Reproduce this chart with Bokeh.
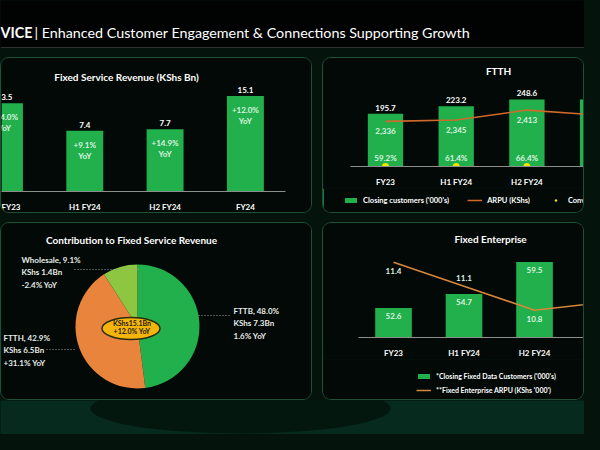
import math
from bokeh.plotting import figure
from bokeh.layouts import column, row
from bokeh.models import (Range1d, FixedTicker, Legend, LegendItem, Span, Spacer,
                          ColumnDataSource)
from bokeh.core.properties import value
from bokeh.embed import file_html
from bokeh.resources import INLINE

# ---------------- data ----------------
periods = ["FY23", "H1 FY24", "H2 FY24", "FY24"]

rev_values = [13.5, 7.4, 7.7, 15.1]
rev_yoy = ["+14.0%", "+9.1%", "+14.9%", "+12.0%"]

ftth_customers = [195.7, 223.2, 248.6, 248.6]
ftth_arpu = [2336, 2345, 2413, 2379]
ftth_conversion = [59.2, 61.4, 66.4, 66.4]

mix_segments = ["FTTB", "FTTH", "Wholesale"]
mix_share = [48.0, 42.9, 9.1]
mix_revenue = [7.3, 6.5, 1.4]
mix_yoy = ["1.6%", "+31.1%", "-2.4%"]
mix_total = 15.1
mix_total_yoy = "+12.0%"

ent_customers = [52.6, 54.7, 59.5, 59.5]
ent_arpu = [11.4, 11.1, 10.8, 10.9]

# ---------------- styles ----------------
PAGE_BG = "#04130c"
PANEL = "#030906"
GREEN = "#21b04b"
ORANGE = "#d06a2c"
GOLD = "#d8873a"
PIE_ORANGE = "#e9843d"
LIGHT_GREEN = "#8dc641"
YELLOW = "#f2e400"
FONT = "Lato"
WHITE = "#ffffff"
SOFT = "#dff3e2"
AXIS = "#8a8f8c"
EDGE = "1px solid #1f4f34"
FULL_STYLE = {"border-radius": "9px", "border": EDGE, "box-sizing": "border-box",
              "overflow": "hidden"}
TOP_STYLE = {"border-radius": "9px 9px 0 0", "border": EDGE, "border-bottom": "none",
             "box-sizing": "border-box", "overflow": "hidden"}
BOTTOM_STYLE = {"border-radius": "0 0 9px 9px", "border": EDGE, "border-top": "none",
                "box-sizing": "border-box", "overflow": "hidden"}

xs = list(range(len(periods)))


def fig(w, h, xr, yr, axis=True, bottom=0, styles=FULL_STYLE):
    p = figure(width=w, height=h, x_range=xr, y_range=yr, output_backend="svg",
               toolbar_location=None, min_border=0, min_border_bottom=bottom,
               x_axis_location="below" if axis else None, y_axis_location=None,
               background_fill_color=PANEL, border_fill_color=PANEL,
               outline_line_color=None)
    p.xgrid.visible = False
    p.ygrid.visible = False
    p.styles = styles
    if axis:
        ax = p.xaxis[0]
        ax.ticker = FixedTicker(ticks=xs)
        ax.major_label_overrides = {i: lbl for i, lbl in enumerate(periods)}
        ax.bounds = (-0.5, 3.5)
        ax.axis_line_color = AXIS
        ax.major_tick_line_color = None
        ax.minor_tick_line_color = None
        ax.major_label_text_color = WHITE
        ax.major_label_text_font = FONT
        ax.major_label_text_font_style = "bold"
        ax.major_label_text_font_size = "8px"
        ax.major_label_standoff = 4
    return p


def txt(p, **kw):
    base = dict(text_font=value(FONT), text_font_style="bold", text_font_size="8px",
                text_color=WHITE, text_align="center", text_baseline="middle")
    base.update(kw)
    return p.text(**base)


def legend_strip(w, h, source, entries, **kw):
    """Strip under a chart holding its legend. The series are re-drawn here from the
    same source, outside the strip's visible range, so only the legend shows."""
    lf = fig(w, h, Range1d(100, 101), Range1d(100, 101), axis=False, styles=BOTTOM_STYLE)
    items = []
    for label, kind, field, color in entries:
        if kind == "bar":
            r = lf.vbar(x="x", top=field, width=0.5, source=source, fill_color=color,
                        line_color=None)
        elif kind == "line":
            r = lf.line(x="x", y=field, source=source, line_color=color, line_width=1.6)
        else:
            r = lf.scatter(x="x", y=field, source=source, size=7, fill_color=color,
                           line_color=None)
        items.append(LegendItem(label=label, renderers=[r]))
    base = dict(padding=2, margin=0, label_standoff=5, glyph_width=15, glyph_height=6,
                label_height=10, label_text_font=FONT, label_text_font_style="bold",
                label_text_font_size="7.5px", label_text_color=WHITE,
                background_fill_alpha=0, border_line_color=None)
    base.update(kw)
    lf.add_layout(Legend(items=items, **base), "center")
    return lf


# ---------------- header ----------------
hdr = figure(width=584, height=48, x_range=Range1d(0, 584), y_range=Range1d(0, 48),
             output_backend="svg", toolbar_location=None, min_border=0,
             x_axis_location=None, y_axis_location=None,
             background_fill_color="#010302", border_fill_color="#010302",
             outline_line_color=None)
hdr.xgrid.visible = False
hdr.ygrid.visible = False
txt(hdr, x=[0], y=[16], text=["VICE"], text_align="left", text_font_size="14.3px")
txt(hdr, x=[34], y=[16], text=["|  Enhanced Customer Engagement & Connections Supporting Growth"],
    text_align="left", text_font_style="normal", text_font_size="14.3px")
hdr.add_layout(Span(location=0.5, dimension="width", line_color="#5b615d", line_width=1))

# ---------------- panel 1: revenue ----------------
REV_BASE = -6.1
p1 = fig(312, 156, Range1d(-0.037, 3.848), Range1d(REV_BASE, 23.42), bottom=18)
s1 = ColumnDataSource(dict(x=xs, top=rev_values, val=[f"{v:.1f}" for v in rev_values],
                           yoy=rev_yoy))
p1.vbar(x="x", top="top", bottom=REV_BASE, width=0.46, source=s1,
        fill_color=GREEN, line_color=None)
txt(p1, x="x", y="top", text="val", source=s1, text_baseline="bottom", y_offset=-3)
txt(p1, x="x", y="top", text="yoy", source=s1, y_offset=14, text_color=SOFT)
txt(p1, x="x", y="top", text=value("YoY"), source=s1, y_offset=25, text_color=SOFT)
txt(p1, x=[1.52], y=[23.42], text=["Fixed Service Revenue (KShs Bn)"], y_offset=18,
    text_font_size="10px")

# ---------------- panel 2: FTTH ----------------
p2 = fig(262, 131, Range1d(-0.877, 2.829), Range1d(0, 400), bottom=16, styles=TOP_STYLE)
p2.extra_y_ranges = {"arpu": Range1d(2028, 2765)}
s2 = ColumnDataSource(dict(x=xs, cust=ftth_customers, arpu=ftth_arpu, conv=ftth_conversion,
                           base=[0] * len(xs),
                           cust_l=[f"{v:.1f}" for v in ftth_customers],
                           arpu_l=[f"{v:,}" for v in ftth_arpu],
                           conv_l=[f"{v:.1f}%" for v in ftth_conversion]))
p2.vbar(x="x", top="cust", width=0.5, source=s2, fill_color=GREEN, line_color=None)
p2.line(x="x", y="arpu", source=s2, y_range_name="arpu", line_color=ORANGE, line_width=1.6)
p2.scatter(x="x", y="base", source=s2, size=7, fill_color=YELLOW, line_color=None)
txt(p2, x="x", y="cust", text="cust_l", source=s2, text_baseline="bottom", y_offset=-3)
txt(p2, x="x", y="arpu", text="arpu_l", source=s2, y_range_name="arpu", y_offset=10,
    text_color=SOFT)
txt(p2, x="x", y="base", text="conv_l", source=s2, y_offset=-9, text_color=SOFT)
txt(p2, x=[1.6], y=[400], text=["FTTH"], y_offset=12, text_font_size="10px")
l2 = legend_strip(262, 25, s2, [("Closing customers ('000's)", "bar", "cust", GREEN),
                                ("ARPU (KShs)", "line", "arpu", ORANGE),
                                ("Conversion rate", "dot", "base", YELLOW)],
                  orientation="horizontal", location=(20, 8), spacing=18)

# ---------------- panel 3: contribution pie ----------------
p3 = fig(312, 178, Range1d(0, 312), Range1d(0, 178), axis=False)
CX, CY, R = 136, 75, 62
cum = [sum(mix_share[:i]) / 100 for i in range(len(mix_share) + 1)]
starts = [math.pi / 2 - 2 * math.pi * c for c in cum[:-1]]
ends = [math.pi / 2 - 2 * math.pi * c for c in cum[1:]]
s3 = ColumnDataSource(dict(seg=mix_segments, start=starts, end=ends,
                           color=[GREEN, PIE_ORANGE, LIGHT_GREEN]))
p3.wedge(x=CX, y=CY, radius=R, radius_units="screen", start_angle="start",
         end_angle="end", direction="clock", fill_color="color", line_color=None,
         source=s3)
p3.ellipse(x=CX - 6.5, y=CY - 2, width=58, height=22, fill_color="#f5b40c",
           line_color="#2b2b10", line_width=1.5)
txt(p3, x=[CX - 5.5, CX - 5.5], y=[CY, CY],
    text=[f"KShs{mix_total:.1f}Bn", f"{mix_total_yoy} YoY"],
    y_offset=[-4, 4.5], text_font_size="7px", text_color="#1c1c12")
txt(p3, x=[130], y=[162], text=["Contribution to Fixed Service Revenue"],
    text_font_size="10px")
label_pos = {"FTTB": (232, 91), "FTTH": (2, 64), "Wholesale": (20, 142)}
leaders = {"FTTB": (197, 230, 86), "FTTH": (45, 73, 52),
           "Wholesale": (73, 137, 132)}
for seg, share, rev, yoy in zip(mix_segments, mix_share, mix_revenue, mix_yoy):
    lx, ly = label_pos[seg]
    lines = [f"{seg}, {share:.1f}%", f"KShs {rev:.1f}Bn", f"{yoy} YoY"]
    txt(p3, x=[lx] * 3, y=[ly] * 3, text=lines, y_offset=[0, 12.5, 25],
        text_align="left", text_font_size="8px", text_color="#e8ece9")
    x0, x1, yy = leaders[seg]
    p3.segment(x0=[x0], y0=[yy], x1=[x1], y1=[yy], line_color="#9aa09c",
               line_dash="1 2", line_width=1)

# ---------------- panel 4: fixed enterprise ----------------
ENT_BASE = 48.2
p4 = fig(262, 137, Range1d(-0.993, 2.723), Range1d(ENT_BASE, 65.24), bottom=16,
         styles=TOP_STYLE)
p4.extra_y_ranges = {"arpu": Range1d(10.459, 11.883)}
ARPU_LABEL_DY = [9, -8, 9, 9]
s4 = ColumnDataSource(dict(x=xs, cust=ent_customers, arpu=ent_arpu,
                           cust_l=[f"{v:.1f}" for v in ent_customers],
                           arpu_l=[f"{v:.1f}" for v in ent_arpu], dy=ARPU_LABEL_DY))
p4.vbar(x="x", top="cust", bottom=ENT_BASE, width=0.52, source=s4,
        fill_color=GREEN, line_color=None)
p4.line(x="x", y="arpu", source=s4, y_range_name="arpu", line_color=GOLD, line_width=1.6)
txt(p4, x="x", y="cust", text="cust_l", source=s4, y_offset=8, text_color=SOFT)
txt(p4, x="x", y="arpu", text="arpu_l", source=s4, y_range_name="arpu", y_offset="dy",
    text_color=SOFT)
txt(p4, x=[1.376], y=[65.24], text=["Fixed Enterprise"], y_offset=15,
    text_font_size="10px")
l4 = legend_strip(262, 41, s4, [("*Closing Fixed Data Customers ('000's)", "bar", "cust", GREEN),
                                ("**Fixed Enterprise ARPU (KShs '000')", "line", "arpu", GOLD)],
                  orientation="vertical", location=(93, 5), spacing=4,
                  label_text_font_size="7px")

# ---------------- footer ----------------
ftr = figure(width=584, height=34, x_range=Range1d(0, 584), y_range=Range1d(0, 34),
             output_backend="svg", toolbar_location=None, min_border=0,
             x_axis_location=None, y_axis_location=None,
             background_fill_color="#062a1d", border_fill_color="#062a1d",
             outline_line_color=None)
ftr.xgrid.visible = False
ftr.ygrid.visible = False
ftr.ellipse(x=240, y=26, width=300, height=50, fill_color="#000000", fill_alpha=0.45,
            line_color=None)

layout = column(hdr, Spacer(height=9),
                row(p1, Spacer(width=10), column(p2, l2)),
                Spacer(height=9),
                row(p3, Spacer(width=10), column(p4, l4)),
                ftr)

html = file_html(layout, INLINE, "Fixed Service")
css = f"<style>html, body {{ background-color: {PAGE_BG}; }}</style>"
html = html.replace("</head>", css + "</head>", 1)
open("out.html", "w").write(html)
